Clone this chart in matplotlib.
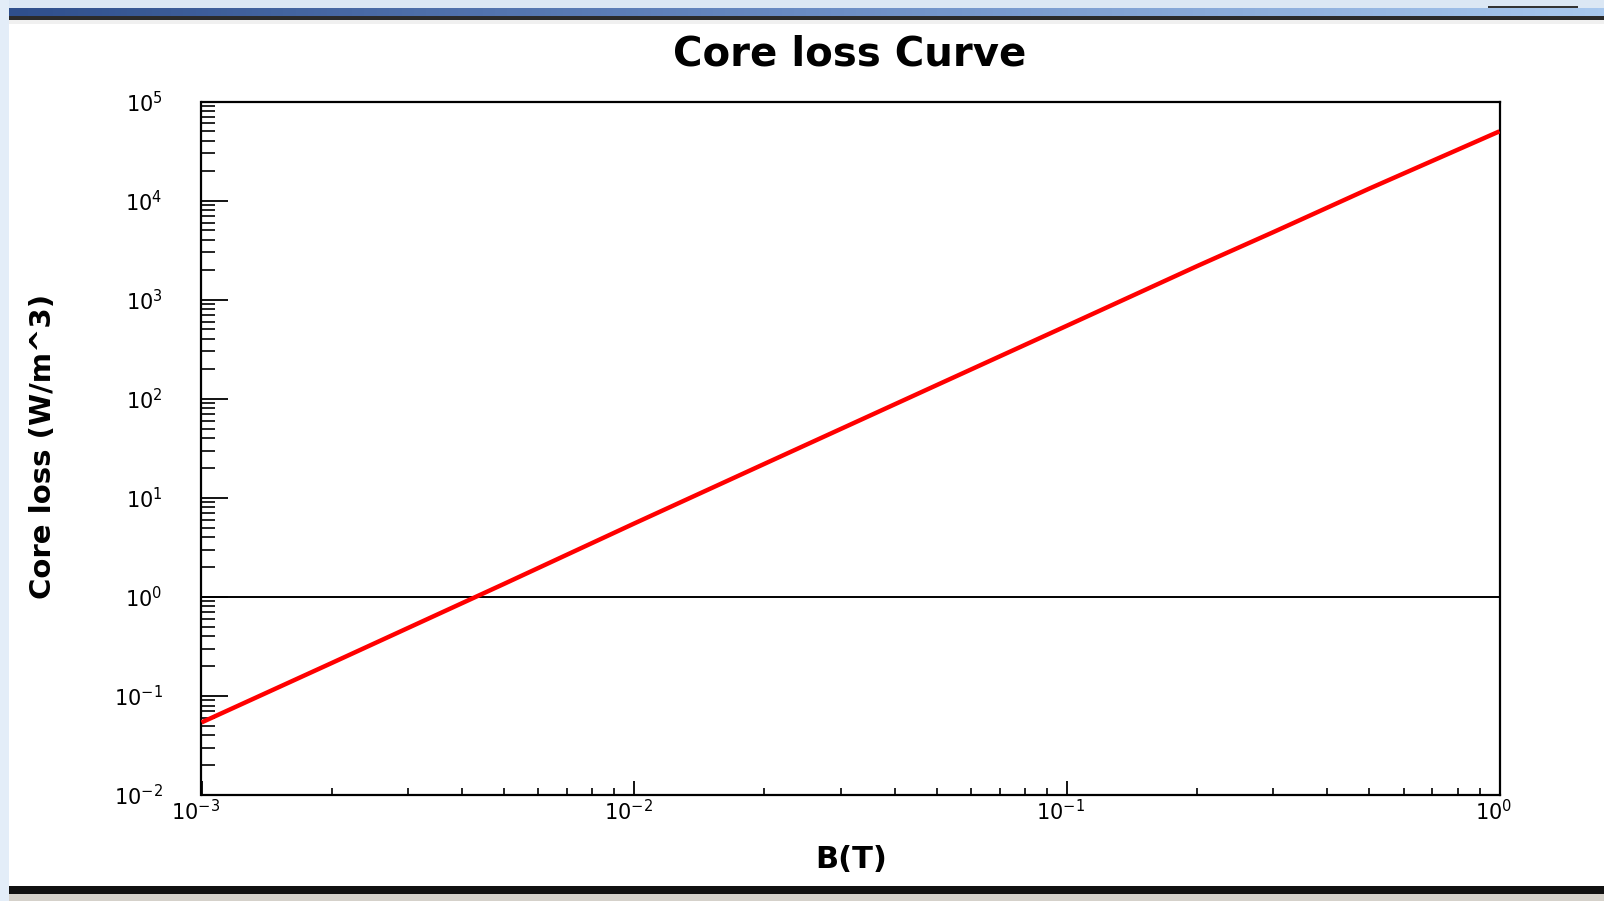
import numpy as np
import matplotlib
matplotlib.use("Agg")
import matplotlib.pyplot as plt
from matplotlib.patches import Rectangle
from matplotlib.ticker import LogFormatterMathtext, NullFormatter
from matplotlib.colors import LinearSegmentedColormap
import matplotlib.transforms as mtransforms

# ---- data ----
B_T = [0.001, 0.002, 0.005, 0.01, 0.02, 0.05, 0.1, 0.2, 0.3, 0.5, 1.0]
core_loss = [0.054, 0.215, 1.35, 5.5, 22.0, 137.0, 545.0, 2180.0, 4800.0, 13200.0, 50000.0]
ref_level = [1.0, 1.0]
x_limits = [1e-3, 1e0]
y_limits = [1e-2, 1e5]
x_decades = [-3, -2, -1, 0]
y_decades = [-2, -1, 0, 1, 2, 3, 4, 5]
title = "Core loss Curve"
xlabel = "B(T)"
ylabel = "Core loss (W/m^3)"

W, H = 1604, 901
fig = plt.figure(figsize=(W / 100, H / 100), dpi=100, facecolor="white")

def fr(x0, y0, x1, y1, color, z=0):
    # rectangle given in pixel coords (top-left origin)
    fig.add_artist(Rectangle((x0 / W, 1 - y1 / H), (x1 - x0) / W, (y1 - y0) / H,
                             transform=fig.transFigure, facecolor=color,
                             edgecolor="none", zorder=z))

# window decorations
fr(0, 0, W, 8, "#dbe7f4")
fr(0, 0, 9, H, "#e3edf8")
fr(9, 16, W, 20, "#2b2b2b")
fr(9, 20, W, 24, "#f0f0f0")
fr(9, 886, W, 894, "#111111")
fr(9, 894, W, H, "#d5d1ca")
fr(1488, 6, 1578, 9, "#333333")
gax = fig.add_axes([9 / W, 1 - 16 / H, (W - 9) / W, 8 / H])
grad = np.linspace(0, 1, 256)[None, :]
cm = LinearSegmentedColormap.from_list("g", ["#2f4f8c", "#6a8cc4", "#a8c8ee"])
gax.imshow(grad, aspect="auto", cmap=cm, extent=[0, 1, 0, 1])
gax.set_axis_off()

left, right, top, bottom = 201.5, 1499.5, 101.5, 795.0
ax = fig.add_axes([left / W, 1 - bottom / H, (right - left) / W, (bottom - top) / H])
ax.set_xscale("log")
ax.set_yscale("log")

ax.plot(x_limits, ref_level, color="black", lw=1.4, zorder=2)
ax.plot(B_T, core_loss, color="#ff0000", lw=3.2, zorder=3, solid_capstyle="butt")

for s in ax.spines.values():
    s.set_linewidth(1.6)
    s.set_color("black")

xmaj = [10.0 ** k for k in x_decades]
ymaj = [10.0 ** k for k in y_decades]
xmin = [m * 10.0 ** k for k in x_decades[:-1] for m in range(2, 10)]
ymin = [m * 10.0 ** k for k in y_decades[:-1] for m in range(2, 10)]
ax.set_xticks(xmaj)
ax.set_xticks(xmin, minor=True)
ax.set_yticks(ymaj)
ax.set_yticks(ymin, minor=True)
ax.xaxis.set_major_formatter(LogFormatterMathtext())
ax.yaxis.set_major_formatter(LogFormatterMathtext())
ax.xaxis.set_minor_formatter(NullFormatter())
ax.yaxis.set_minor_formatter(NullFormatter())
ax.set_xlim(x_limits)
ax.set_ylim(y_limits)

ax.tick_params(axis="x", which="major", direction="in", length=10, width=1.3, pad=3,
               labelsize=15, top=False)
ax.tick_params(axis="x", which="minor", direction="in", length=5, width=1.2, top=False)
ax.tick_params(axis="y", which="major", direction="in", length=19.5, width=1.3, pad=28,
               labelsize=15, right=False)
ax.tick_params(axis="y", which="minor", direction="in", length=10, width=1.2, right=False)

off = mtransforms.ScaledTranslation(-6 / 100, 0, fig.dpi_scale_trans)
for lab in ax.get_xticklabels():
    lab.set_transform(lab.get_transform() + off)

fig.text(850 / W, 1 - 54 / H, title, ha="center", va="center", fontsize=29,
         fontweight="bold", color="black")
fig.text(851 / W, 1 - 859 / H, xlabel, ha="center", va="center", fontsize=22,
         fontweight="bold", color="black")
fig.text(43 / W, 1 - 446 / H, ylabel, ha="center", va="center", fontsize=21,
         fontweight="bold", rotation=90, color="black")

fig.savefig("out.png", dpi=100, facecolor="white")
